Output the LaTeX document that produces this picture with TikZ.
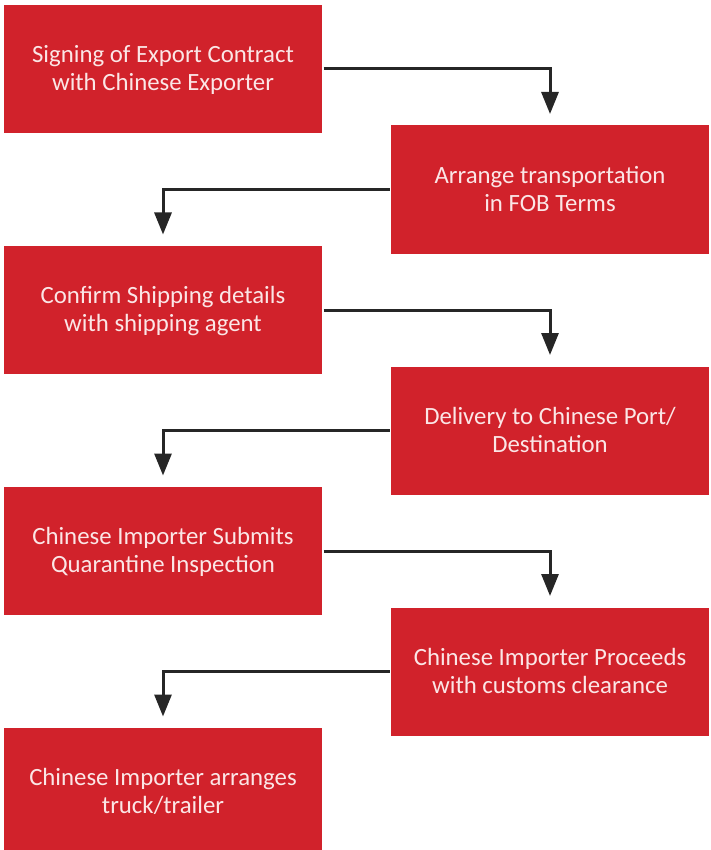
\documentclass[tikz,border=0pt]{standalone}
\usepackage{fontspec}
\setmainfont{Carlito}
\usetikzlibrary{arrows.meta}

\definecolor{boxred}{HTML}{D1222B}
\definecolor{boxtext}{HTML}{FBE6E6}
\definecolor{linegray}{HTML}{262626}

\begin{document}
\begin{tikzpicture}[x=1pt,y=-1pt,line width=3pt,line join=miter,
    stepbox/.style={fill=boxred,text=boxtext,minimum width=318pt,minimum height=128pt,
        inner sep=0pt,align=center,font=\fontsize{24.8}{28}\selectfont,
        text depth=2pt},
    flow/.style={draw=linegray,-{Triangle[width=17pt,length=22pt]},shorten >=10pt}]
\useasboundingbox (0,0) rectangle (710,850);
\node[stepbox] (contract)   at (163,69)    {Signing of Export Contract\\with Chinese Exporter};
\node[stepbox] (transport)  at (550,189.5) {Arrange transportation\\in FOB Terms};
\node[stepbox] (shipping)   at (163,310)   {Confirm Shipping details\\with shipping agent};
\node[stepbox] (delivery)   at (550,430.5) {Delivery to Chinese Port/\\Destination};
\node[stepbox] (inspection) at (163,551)   {Chinese Importer Submits\\Quarantine Inspection};
\node[stepbox] (clearance)  at (550,671.5) {Chinese Importer Proceeds\\with customs clearance};
\node[stepbox] (truck)      at (163,792)   {Chinese Importer arranges\\truck/trailer};
%\draw (0,0) rectangle (710,850);
\draw[flow] (contract.east) -| (transport.north);
\draw[flow] (transport.west) -| (shipping.north);
\draw[flow] (shipping.east) -| (delivery.north);
\draw[flow] (delivery.west) -| (inspection.north);
\draw[flow] (inspection.east) -| (clearance.north);
\draw[flow] (clearance.west) -| (truck.north);
\end{tikzpicture}
\end{document}
